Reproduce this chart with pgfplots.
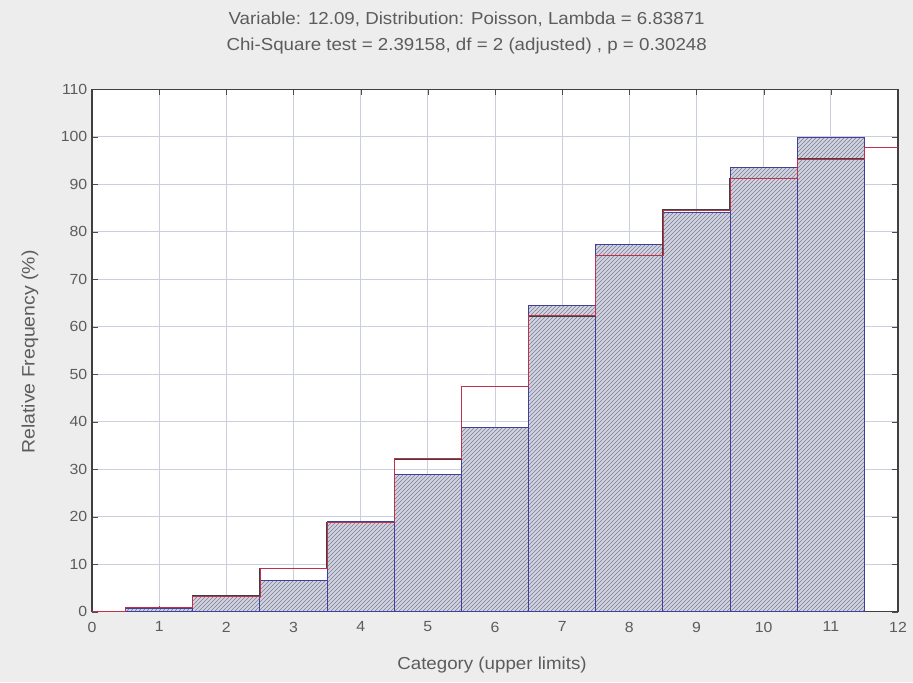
\documentclass[border=0pt]{standalone}
\usepackage{pgfplots}
\pgfplotsset{compat=1.18}
\usetikzlibrary{patterns}
\usepackage{fontspec}
\setmainfont{Liberation Sans}[FakeStretch=1.08]
\definecolor{txt}{HTML}{5C5C5C}
\definecolor{gridc}{HTML}{CBCEDD}
\definecolor{barfill}{HTML}{D2D4E1}
\definecolor{hatch}{HTML}{7B7E95}
\definecolor{barline}{HTML}{40409A}
\definecolor{expred}{HTML}{C0304A}
\definecolor{bg}{HTML}{EDEDED}
\begin{document}
\begin{tikzpicture}
\fill[bg] (0pt,0pt) rectangle (684.75pt,511.5pt);
\path[use as bounding box] (0pt,0pt) rectangle (684.75pt,511.5pt);
\begin{axis}[
  at={(69pt,52.7pt)}, anchor=south west,
  scale only axis, width=604.5pt, height=391.9pt,
  xmin=0, xmax=12, ymin=0, ymax=110,
  xtick={0,1,...,12}, ytick={0,10,...,110},
  grid=major, grid style={gridc, line width=0.7pt},
  axis background/.style={fill=white},
  axis line style={black!75, line width=0.9pt},
  tick style={black!70}, tick align=inside,
  ticklabel style={font=\fontsize{11}{13}\selectfont, text=txt},
  /pgf/number format/assume math mode=true,
  xticklabel style={yshift=-4pt},
]
\addplot[ybar interval, draw=barline, line width=0.7pt,
  preaction={fill=barfill},
  pattern=north east lines, pattern color=hatch]
  coordinates {(0.5,0.6)(1.5,3.2)(2.5,6.5)(3.5,19.0)(4.5,28.9)(5.5,38.8)(6.5,64.5)(7.5,77.4)(8.5,84.0)(9.5,93.5)(10.5,99.8)(11.5,99.8)};
\addplot[const plot, draw=black!75, line width=1.1pt]
  coordinates {(0,0.1)(0.5,0.84)(1.5,3.34)(2.5,9.05)(3.5,18.8)(4.5,32.2)(5.5,47.4)(6.5,62.3)(7.5,75.0)(8.5,84.6)(9.5,91.2)(10.5,95.3)(11.5,97.7)(12,97.7)};
\addplot[const plot, draw=expred, line width=0.5pt]
  coordinates {(0,0.1)(0.5,0.84)(1.5,3.34)(2.5,9.05)(3.5,18.8)(4.5,32.2)(5.5,47.4)(6.5,62.3)(7.5,75.0)(8.5,84.6)(9.5,91.2)(10.5,95.3)(11.5,97.7)(12,97.7)};
\end{axis}
\node[text=txt, font=\fontsize{13}{15}\selectfont] at (350pt,497pt) {Variable: 12.09, Distribution: Poisson, Lambda = 6.83871};
\node[text=txt, font=\fontsize{13}{15}\selectfont] at (350pt,477pt) {Chi-Square test = 2.39158, df = 2 (adjusted) , p = 0.30248};
\node[text=txt, font=\fontsize{13}{15}\selectfont] at (369pt,12.75pt) {Category (upper limits)};
\node[text=txt, font=\fontsize{13.5}{15}\selectfont, rotate=90] at (22.5pt,247.5pt) {Relative Frequency (\%)};
\end{tikzpicture}
\end{document}
